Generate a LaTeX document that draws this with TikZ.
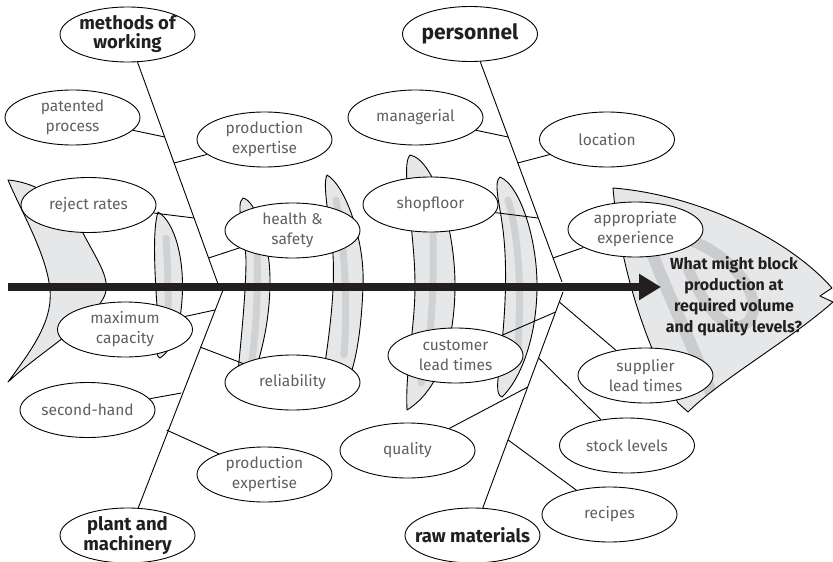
\documentclass[tikz,border=0pt]{standalone}
\usepackage{fontspec}
\setmainfont{Fira Sans}
\usetikzlibrary{arrows.meta, shapes.geometric}

\definecolor{bonegray}{HTML}{E6E7E8}
\definecolor{streak}{HTML}{D0D1D3}
\definecolor{headstreak}{HTML}{CBCCCE}
\definecolor{labelgray}{HTML}{5F6062}
\definecolor{inkblack}{HTML}{231F20}

\begin{document}
\begin{tikzpicture}[x=1pt,y=-1pt,line width=0.9pt,
    cause/.style={ellipse,draw,fill=white,minimum width=135pt,minimum height=55pt,
      inner xsep=-20pt,inner ysep=-6pt,align=center,text=labelgray,
      font=\fontsize{15.5}{20}\selectfont},
    category/.style={cause,text=inkblack,font=\fontsize{18.5}{19}\selectfont\bfseries},
    bone/.style={draw,fill=bonegray,line join=round},
    streakline/.style={draw=streak,line width=7pt,line cap=round}]
  \useasboundingbox (0,0) rectangle (833,562);

  % tail and bones
  \path[bone] (8,180) .. controls (40,183) and (68,203) .. (83,233)
    .. controls (98,262) and (112,280) .. (104,297)
    .. controls (92,322) and (40,352) .. (8,382)
    .. controls (30,352) and (53,322) .. (50,290)
    .. controls (47,255) and (22,213) .. (8,180) -- cycle;
  \path[bone] (158,212) .. controls (175,222) and (185,260) .. (182,300)
    .. controls (180,330) and (172,350) .. (160,358)
    .. controls (154,356) and (158,340) .. (158,320)
    .. controls (155,280) and (152,230) .. (158,212) -- cycle;
  \path[bone] (243,198) .. controls (255,200) and (270,240) .. (270,280)
    .. controls (270,320) and (262,350) .. (255,372) -- (238,372)
    .. controls (242,330) and (246,290) .. (246,260)
    .. controls (245,230) and (235,205) .. (243,198) -- cycle;
  \path[bone] (327,175) .. controls (345,185) and (365,240) .. (363,285)
    .. controls (362,320) and (358,350) .. (352,370) -- (324,370)
    .. controls (330,330) and (335,290) .. (333,255)
    .. controls (330,220) and (322,185) .. (327,175) -- cycle;
  \path[bone] (410,155) .. controls (435,160) and (455,230) .. (455,285)
    .. controls (455,340) and (440,390) .. (407,410)
    .. controls (405,370) and (415,330) .. (415,285)
    .. controls (415,230) and (400,165) .. (410,155) -- cycle;
  \path[bone] (500,177) .. controls (520,185) and (538,240) .. (537,290)
    .. controls (536,340) and (520,380) .. (502,397)
    .. controls (495,395) and (498,380) .. (500,360)
    .. controls (505,320) and (508,270) .. (503,230)
    .. controls (500,205) and (493,182) .. (500,177) -- cycle;
  \draw[streakline] (166,238) .. controls (168,270) and (169,300) .. (167,335);
  \draw[streakline] (257,245) .. controls (258,290) and (257,320) .. (252,360);
  \draw[streakline] (336,200) .. controls (345,250) and (348,300) .. (344,355);
  \draw[streakline] (433,235) .. controls (434,290) and (432,340) .. (421,383);
  \draw[streakline] (508,200) .. controls (520,240) and (522,300) .. (517,360);

  % head
  \def\headpath{(613,188) .. controls (700,195) and (790,240) .. (832,288)
    -- (820,296) -- (833,302)
    .. controls (790,340) and (720,380) .. (688,412) -- (678,403)
    .. controls (648,350) and (620,270) .. (613,188) -- cycle}
  \fill[bonegray] \headpath;
  \begin{scope}
    \clip \headpath;
    \draw[headstreak,line width=12pt,line cap=round]
      (650,248) .. controls (670,300) and (695,350) .. (718,410);
    \draw[headstreak,line width=11pt,line cap=round]
      (682,238) .. controls (730,250) and (768,300) .. (748,322)
      .. controls (728,340) and (700,300) .. (688,268);
  \end{scope}
  \draw[line join=round] \headpath;

  % main arrow
  \coordinate (start) at (8,287);
  \coordinate (tip) at (661,287);
  \draw[inkblack,line width=8pt,-{Triangle[length=22pt,width=25pt]}] (start) -- (tip);
  \node[text=inkblack,font=\fontsize{16}{21}\selectfont\bfseries,align=center]
    (effect) at (734,296) {What might block\\production at\\required volume\\and quality levels?};

  % categories
  \node[category] (methods)   at (127.5,34.5)  {methods of\\working};
  \node[category,font=\fontsize{21}{21}\selectfont\bfseries]
                  (personnel) at (470,34)      {personnel};
  \node[category] (plant)     at (127.5,535.5) {plant and\\machinery};
  \node[category] (raw)       at (472.5,535.5) {raw materials};

  % causes
  \node[cause] (patented)    at (72.5,117.5)  {patented\\process};
  \node[cause] (prodtop)     at (264.5,139.5) {production\\expertise};
  \node[cause] (reject)      at (88.5,205)    {reject rates};
  \node[cause] (health)      at (292.5,230.5) {health \&\\safety};
  \node[cause] (maxcap)      at (125,329.5)   {maximum\\capacity};
  \node[cause] (reliability) at (292.5,382.5) {reliability};
  \node[cause] (secondhand)  at (87.5,410)    {second-hand};
  \node[cause] (prodbot)     at (264.5,474.5) {production\\expertise};
  \node[cause] (managerial)  at (415.5,117.5) {managerial};
  \node[cause] (location)    at (607,139.5)   {location};
  \node[cause] (shopfloor)   at (430.5,204.5) {shopfloor};
  \node[cause] (appropriate) at (635.5,229.5) {appropriate\\experience};
  \node[cause] (customer)    at (455.5,355.5) {customer\\lead times};
  \node[cause] (supplier)    at (645.5,375.5) {supplier\\lead times};
  \node[cause] (quality)     at (407.5,450.5) {quality};
  \node[cause] (stock)       at (627,445.5)   {stock levels};
  \node[cause] (recipes)     at (609.5,514.5) {recipes};

  % spine ends and joints
  \coordinate (mEnd) at (218,284);
  \coordinate (pEnd) at (223,290);
  \coordinate (sEnd) at (562,282);
  \coordinate (rEnd) at (563,292);
  \coordinate (m1) at (164.7,137);
  \coordinate (m2) at (174.1,163);
  \coordinate (m3) at (194.1,218);
  \coordinate (m4) at (208.6,258);
  \coordinate (p1) at (214.9,310);
  \coordinate (p2) at (200,347);
  \coordinate (p3) at (181.4,393);
  \coordinate (p4) at (166.5,430);
  \coordinate (s1) at (508,137);
  \coordinate (s2) at (517.6,163);
  \coordinate (s3) at (538.1,218);
  \coordinate (s4) at (553,258);
  \coordinate (r1) at (559.3,302);
  \coordinate (r2) at (555.6,312);
  \coordinate (r3) at (538.6,358);
  \coordinate (r4) at (527.8,387);
  \coordinate (r5) at (508.2,440);

  \path[draw]
    (methods) edge (mEnd)
    (plant) edge (pEnd)
    (personnel) edge (sEnd)
    (raw) edge (rEnd)
    (patented) edge (m1)
    (prodtop) edge (m2)
    (reject) edge (m3)
    (health) edge (m4)
    (maxcap) edge (p1)
    (reliability) edge (p2)
    (secondhand) edge (p3)
    (prodbot) edge (p4)
    (managerial) edge (s1)
    (location) edge (s2)
    (shopfloor) edge (s3)
    (appropriate) edge (s4)
    (supplier) edge (r1)
    (customer) edge (r2)
    (stock) edge (r3)
    (quality) edge (r4)
    (recipes) edge (r5);
\end{tikzpicture}
\end{document}
